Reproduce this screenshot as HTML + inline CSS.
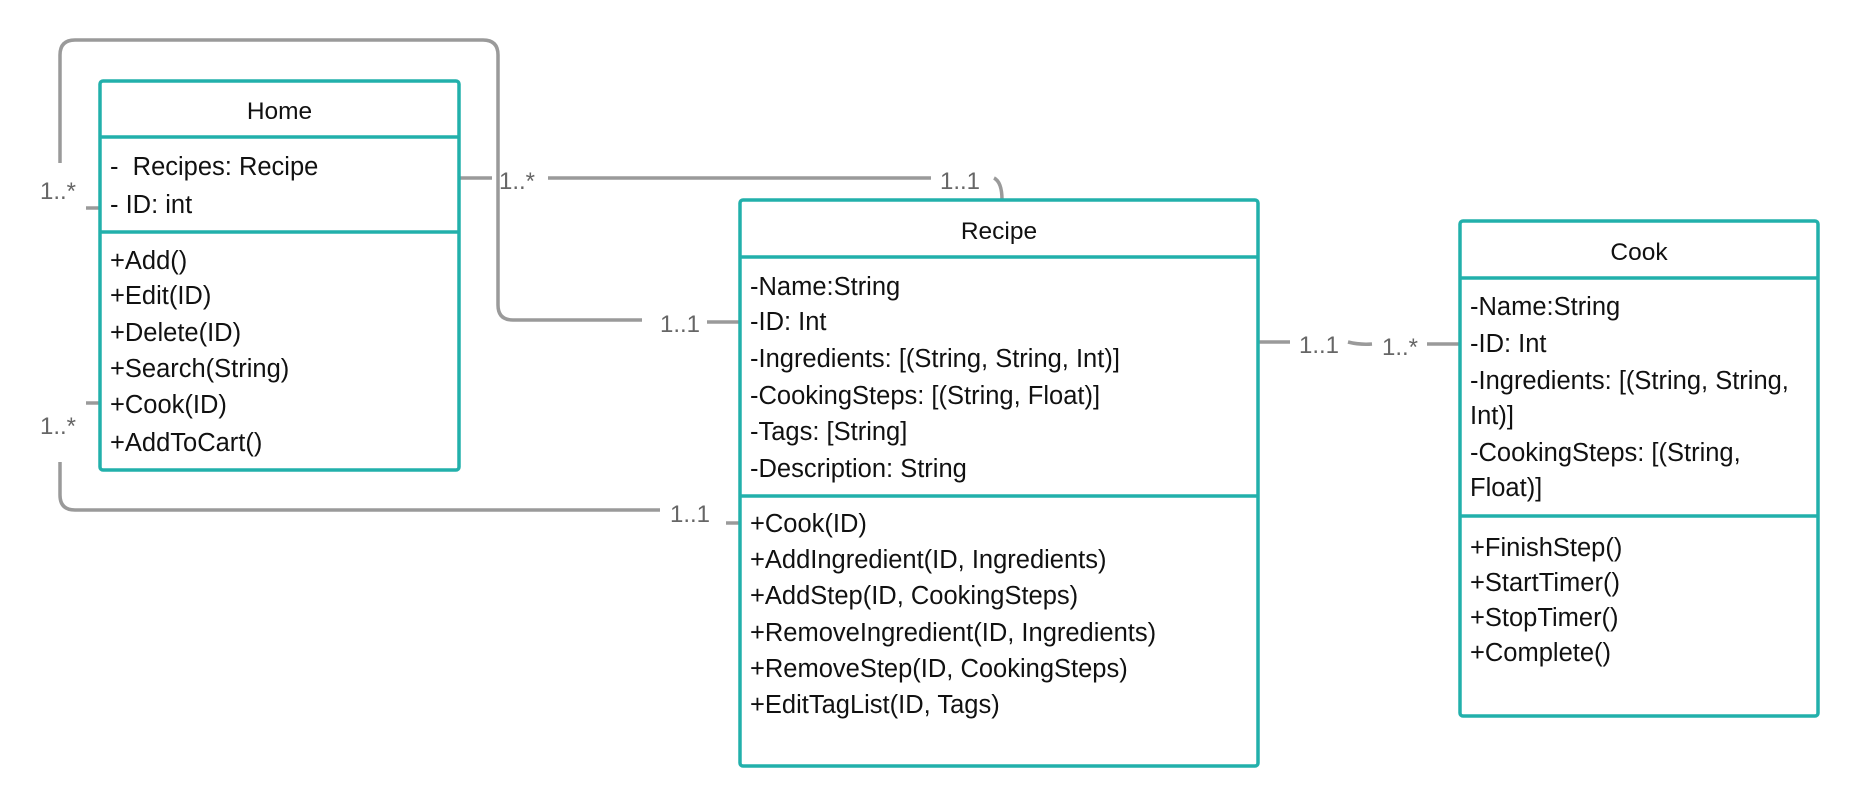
<!DOCTYPE html>
<html><head><meta charset="utf-8"><style>
html,body{margin:0;padding:0;background:#fff;}
svg{display:block;}
text{font-family:"Liberation Sans",sans-serif;}
.t{font-size:25.5px;fill:#111;}
.h{font-size:24.5px;fill:#111;}
.l{font-size:24px;fill:#666;}
.c{fill:none;stroke:#9a9a9a;stroke-width:3.5;}
.b{fill:#fff;stroke:#22b0ab;stroke-width:3.5;}
.d{stroke:#22b0ab;stroke-width:3.5;}
</style></head><body>
<svg width="1860" height="808" viewBox="0 0 1860 808" xmlns="http://www.w3.org/2000/svg">
<path class="c" d="M60 163 V55 Q60 40 75 40 H483 Q498 40 498 55 V305 Q498 320 513 320 H642"/>
<path class="c" d="M707 322 H740"/>
<path class="c" d="M86 208 H101"/>
<path class="c" d="M459 178 H492"/>
<path class="c" d="M548 178 H931"/>
<path class="c" d="M994 178 Q1002 182 1002 200"/>
<path class="c" d="M86 403 H101"/>
<path class="c" d="M60 462 V495 Q60 510 75 510 H660"/>
<path class="c" d="M726 523 H740"/>
<path class="c" d="M1258 342 H1290"/>
<path class="c" d="M1348 342 Q1360 345 1372 344"/>
<path class="c" d="M1427 344 H1460"/>
<text class="l" x="40" y="199">1..*</text>
<text class="l" x="499" y="189">1..*</text>
<text class="l" x="940" y="189">1..1</text>
<text class="l" x="660" y="332">1..1</text>
<text class="l" x="40" y="434">1..*</text>
<text class="l" x="670" y="522">1..1</text>
<text class="l" x="1299" y="353">1..1</text>
<text class="l" x="1382" y="355">1..*</text>
<rect class="b" x="100" y="81" width="359" height="389" rx="3"/>
<line class="d" x1="100" y1="137" x2="459" y2="137"/>
<line class="d" x1="100" y1="232" x2="459" y2="232"/>
<text class="h" x="279.5" y="119" text-anchor="middle">Home</text>
<text class="t" x="110" y="175">-&#160;&#160;Recipes: Recipe</text>
<text class="t" x="110" y="213">- ID: int</text>
<text class="t" x="110" y="269">+Add()</text>
<text class="t" x="110" y="304">+Edit(ID)</text>
<text class="t" x="110" y="341">+Delete(ID)</text>
<text class="t" x="110" y="377">+Search(String)</text>
<text class="t" x="110" y="413">+Cook(ID)</text>
<text class="t" x="110" y="451">+AddToCart()</text>
<rect class="b" x="740" y="200" width="518" height="566" rx="3"/>
<line class="d" x1="740" y1="257" x2="1258" y2="257"/>
<line class="d" x1="740" y1="496" x2="1258" y2="496"/>
<text class="h" x="999" y="239" text-anchor="middle">Recipe</text>
<text class="t" x="750" y="295">-Name:String</text>
<text class="t" x="750" y="330">-ID: Int</text>
<text class="t" x="750" y="367">-Ingredients: [(String, String, Int)]</text>
<text class="t" x="750" y="404">-CookingSteps: [(String, Float)]</text>
<text class="t" x="750" y="440">-Tags: [String]</text>
<text class="t" x="750" y="477">-Description: String</text>
<text class="t" x="750" y="532">+Cook(ID)</text>
<text class="t" x="750" y="568">+AddIngredient(ID, Ingredients)</text>
<text class="t" x="750" y="604">+AddStep(ID, CookingSteps)</text>
<text class="t" x="750" y="641">+RemoveIngredient(ID, Ingredients)</text>
<text class="t" x="750" y="677">+RemoveStep(ID, CookingSteps)</text>
<text class="t" x="750" y="713">+EditTagList(ID, Tags)</text>
<rect class="b" x="1460" y="221" width="358" height="495" rx="3"/>
<line class="d" x1="1460" y1="278" x2="1818" y2="278"/>
<line class="d" x1="1460" y1="516" x2="1818" y2="516"/>
<text class="h" x="1639" y="260" text-anchor="middle">Cook</text>
<text class="t" x="1470" y="315">-Name:String</text>
<text class="t" x="1470" y="352">-ID: Int</text>
<text class="t" x="1470" y="389">-Ingredients: [(String, String,</text>
<text class="t" x="1470" y="424">Int)]</text>
<text class="t" x="1470" y="461">-CookingSteps: [(String,</text>
<text class="t" x="1470" y="496">Float)]</text>
<text class="t" x="1470" y="556">+FinishStep()</text>
<text class="t" x="1470" y="591">+StartTimer()</text>
<text class="t" x="1470" y="626">+StopTimer()</text>
<text class="t" x="1470" y="661">+Complete()</text>
</svg>
</body></html>
